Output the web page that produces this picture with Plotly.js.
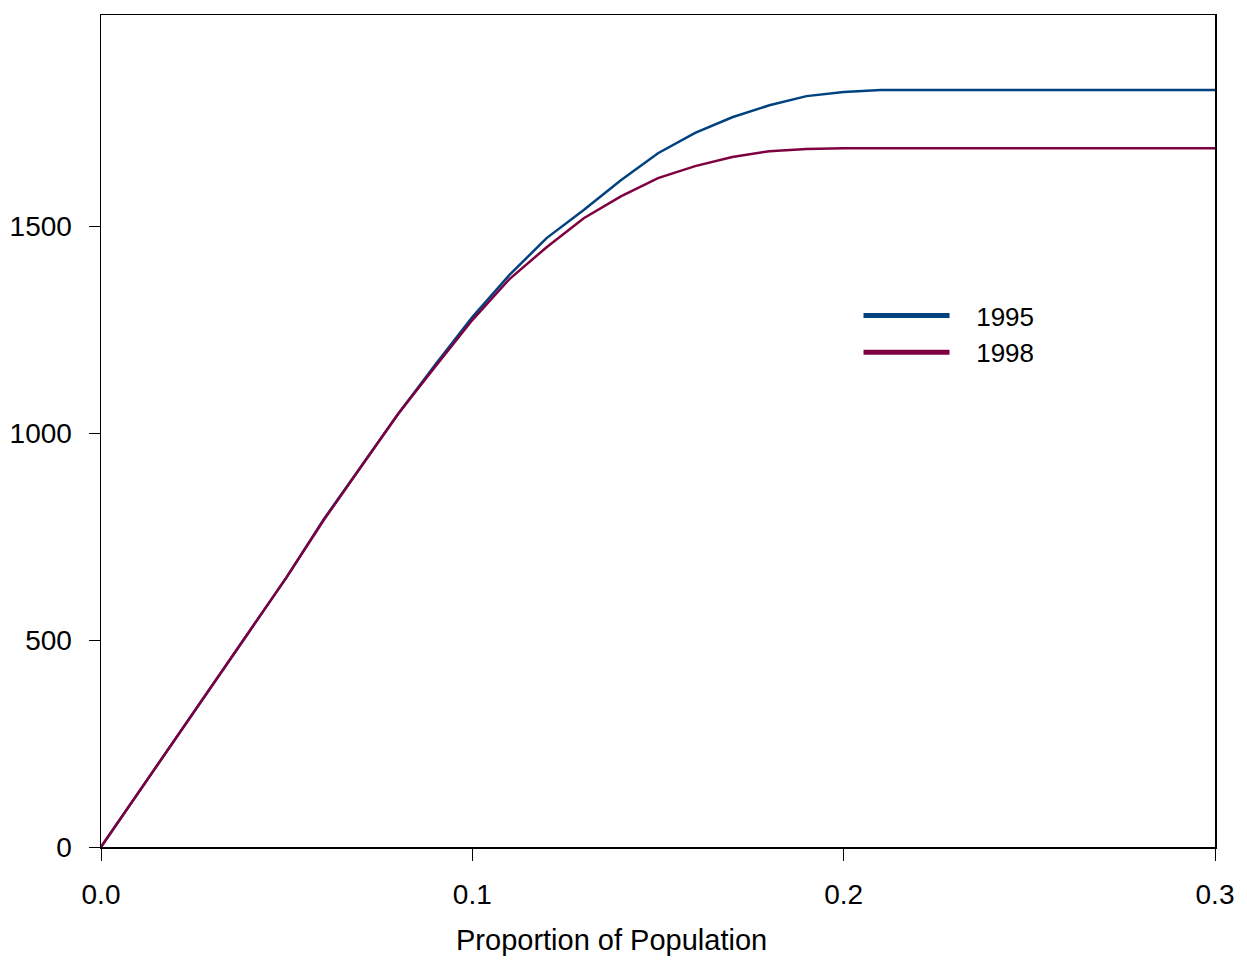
<!DOCTYPE html>
<html>
<head>
<meta charset="utf-8">
<script src="https://cdn.plot.ly/plotly-3.0.1.min.js"></script>
<style>html,body{margin:0;padding:0;background:#fff;}#chart{width:1247px;height:961px;}</style>
</head>
<body>
<div id="chart"></div>
<script>
const proportion = [0, 0.01, 0.02, 0.03, 0.04, 0.05, 0.06, 0.07, 0.08, 0.09, 0.10, 0.11, 0.12, 0.13, 0.14, 0.15, 0.16, 0.17, 0.18, 0.19, 0.20, 0.21, 0.22, 0.23, 0.24, 0.25, 0.26, 0.27, 0.28, 0.29, 0.30];
const y1995 = [0, 130, 260, 390, 520, 652, 792, 918, 1046, 1165, 1280, 1382, 1471, 1539, 1611, 1676, 1725, 1763, 1792, 1814, 1824, 1829, 1829, 1829, 1829, 1829, 1829, 1829, 1829, 1829, 1829];
const y1998 = [0, 130, 260, 390, 520, 652, 790, 918, 1046, 1160, 1273, 1372, 1449, 1519, 1572, 1616, 1645, 1667, 1681, 1686, 1688, 1688, 1688, 1688, 1688, 1688, 1688, 1688, 1688, 1688, 1688];
const seriesNames = ['1995', '1998'];
const xTicks = [0, 0.1, 0.2, 0.3];
const xTickText = ['0.0', '0.1', '0.2', '0.3'];
const yTicks = [0, 500, 1000, 1500];
const xTitle = 'Proportion of Population';

const colors = ['#00427f', '#7f0040'];
const font = 'Liberation Sans, Arial, sans-serif';
const pad = '\u00a0\u00a0\u00a0';

const data = [
  {x: proportion, y: y1995, type: 'scatter', mode: 'lines', name: seriesNames[0], showlegend: false, legendgroup: 'a',
   line: {color: colors[0], width: 2.5}},
  {x: proportion, y: y1998, type: 'scatter', mode: 'lines', name: seriesNames[1], showlegend: false, legendgroup: 'b',
   line: {color: colors[1], width: 2.5}},
  {x: [null], y: [null], type: 'scatter', mode: 'lines', name: pad + seriesNames[0], legendgroup: 'a',
   line: {color: colors[0], width: 5}},
  {x: [null], y: [null], type: 'scatter', mode: 'lines', name: pad + seriesNames[1], legendgroup: 'b',
   line: {color: colors[1], width: 5}}
];

const layout = {
  width: 1247, height: 961,
  margin: {l: 101, r: 32, t: 15, b: 114},
  paper_bgcolor: '#fff', plot_bgcolor: '#fff',
  font: {family: font, size: 28, color: '#000'},
  showlegend: true,
  legend: {x: 0.68, y: 0.667, xanchor: 'left', yanchor: 'top', bgcolor: 'rgba(0,0,0,0)',
           font: {family: font, size: 26, color: '#000'}, itemwidth: 86, tracegroupgap: 0},
  xaxis: {
    range: [0, 0.3], tickvals: xTicks, ticktext: xTickText,
    showgrid: false, zeroline: false, showline: true, linecolor: '#000', linewidth: 1.5, mirror: true,
    ticks: 'outside', ticklen: 12, tickcolor: '#000', tickwidth: 1,
    ticklabelstandoff: 10,
    tickfont: {family: font, size: 28, color: '#000'}
  },
  yaxis: {
    range: [0, 2010], tickvals: yTicks,
    showgrid: false, zeroline: false, showline: true, linecolor: '#000', linewidth: 1.5, mirror: true,
    ticks: 'outside', ticklen: 11, tickcolor: '#000', tickwidth: 1,
    ticklabelstandoff: 11,
    tickfont: {family: font, size: 28, color: '#000'}
  },
  annotations: [
    {text: xTitle, xref: 'paper', yref: 'paper', x: 0.458, y: -0.112, xanchor: 'center', yanchor: 'middle',
     showarrow: false, font: {family: font, size: 29, color: '#000'}}
  ]
};

Plotly.newPlot('chart', data, layout, {displayModeBar: false, staticPlot: true});
</script>
</body>
</html>
